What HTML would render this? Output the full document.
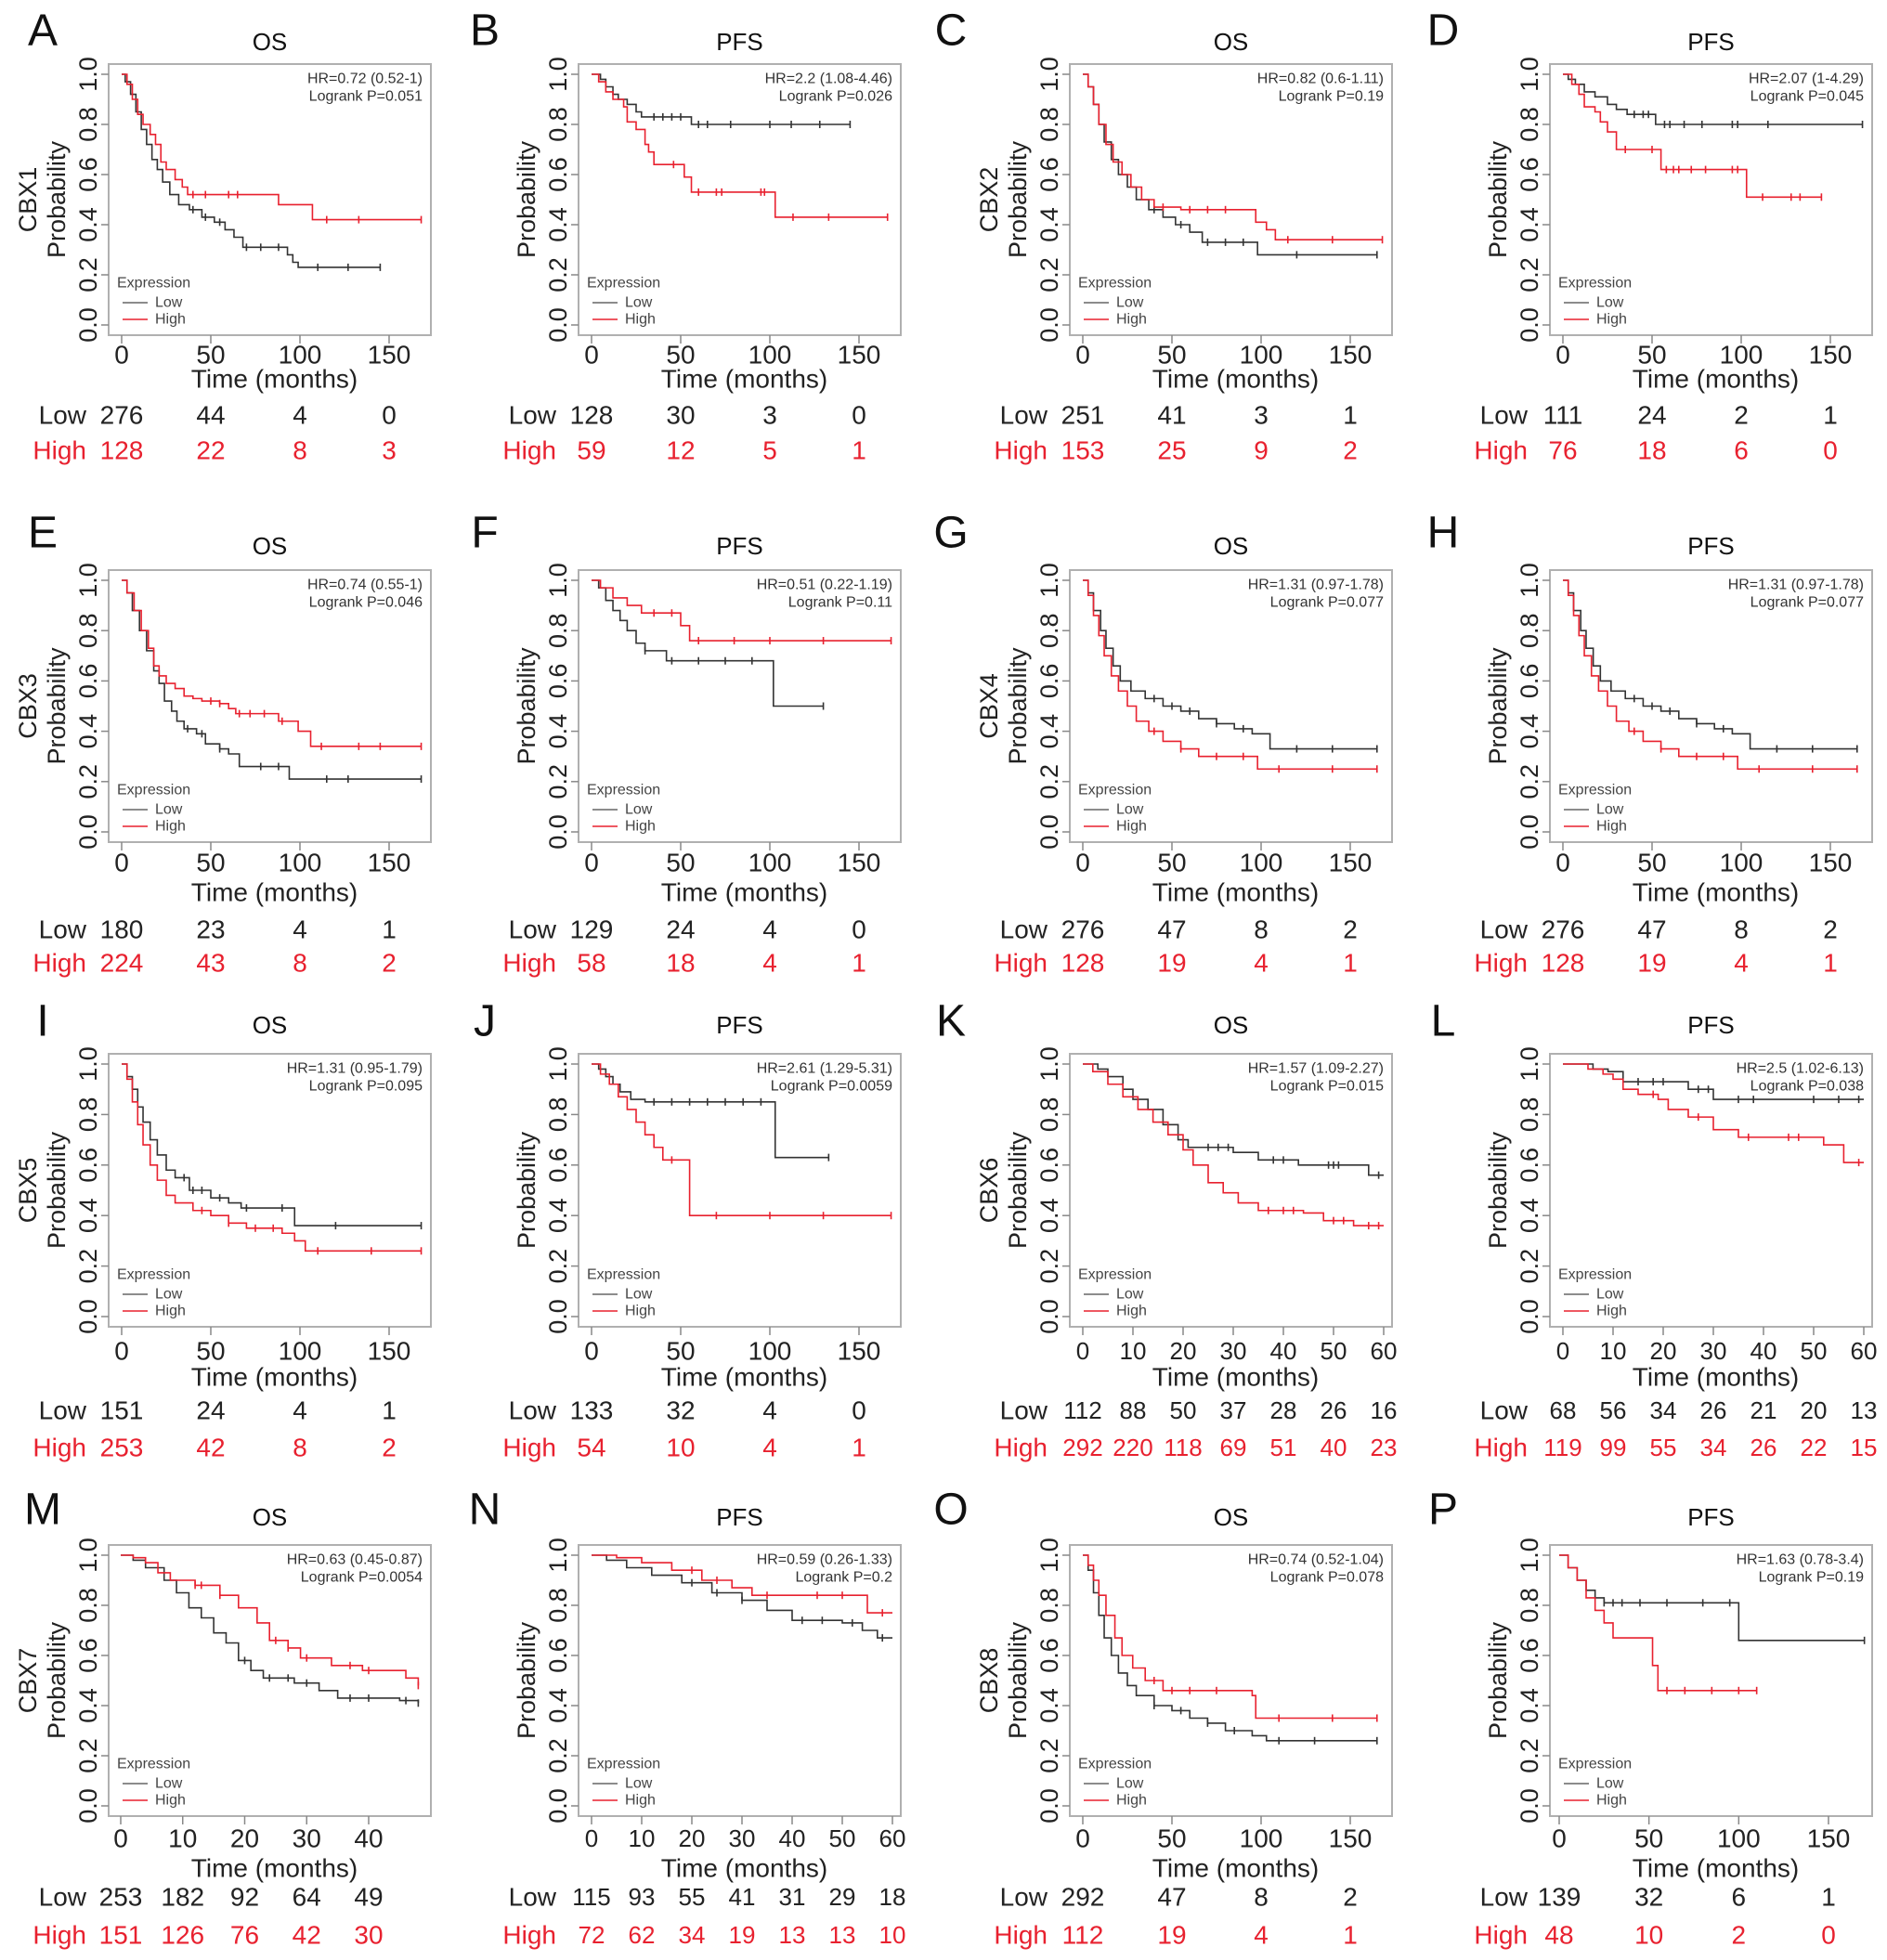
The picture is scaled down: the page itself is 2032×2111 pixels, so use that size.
<!DOCTYPE html>
<html><head><meta charset="utf-8"><title>CBX Kaplan-Meier panels</title>
<style>html,body{margin:0;padding:0;background:#fff}svg{display:block}text{font-family:"Liberation Sans",Arial,sans-serif}</style>
</head><body>
<svg id="fig" xmlns="http://www.w3.org/2000/svg" width="2032" height="2111" viewBox="0 0 2032 2111"></svg>
<script>
// ---------- data ----------
const panelIds = ["A","B","C","D","E","F","G","H","I","J","K","L","M","N","O","P"];
const endpoints = ["OS","PFS","OS","PFS","OS","PFS","OS","PFS","OS","PFS","OS","PFS","OS","PFS","OS","PFS"];
const genes = ["CBX1","","CBX2","","CBX3","","CBX4","","CBX5","","CBX6","","CBX7","","CBX8",""];
const hrLabels = ["HR=0.72 (0.52-1)","HR=2.2 (1.08-4.46)","HR=0.82 (0.6-1.11)","HR=2.07 (1-4.29)","HR=0.74 (0.55-1)","HR=0.51 (0.22-1.19)","HR=1.31 (0.97-1.78)","HR=1.31 (0.97-1.78)","HR=1.31 (0.95-1.79)","HR=2.61 (1.29-5.31)","HR=1.57 (1.09-2.27)","HR=2.5 (1.02-6.13)","HR=0.63 (0.45-0.87)","HR=0.59 (0.26-1.33)","HR=0.74 (0.52-1.04)","HR=1.63 (0.78-3.4)"];
const pLabels = ["Logrank P=0.051","Logrank P=0.026","Logrank P=0.19","Logrank P=0.045","Logrank P=0.046","Logrank P=0.11","Logrank P=0.077","Logrank P=0.077","Logrank P=0.095","Logrank P=0.0059","Logrank P=0.015","Logrank P=0.038","Logrank P=0.0054","Logrank P=0.2","Logrank P=0.078","Logrank P=0.19"];
const ticks150 = [0,50,100,150];
const ticks60 = [0,10,20,30,40,50,60];
const ticks40 = [0,10,20,30,40];
const yTicks = [0,0.2,0.4,0.6,0.8,1.0];
const yTickLabels = ["0.0","0.2","0.4","0.6","0.8","1.0"];
const riskLow = [[276,44,4,0],[128,30,3,0],[251,41,3,1],[111,24,2,1],[180,23,4,1],[129,24,4,0],[276,47,8,2],[276,47,8,2],[151,24,4,1],[133,32,4,0],[112,88,50,37,28,26,16],[68,56,34,26,21,20,13],[253,182,92,64,49],[115,93,55,41,31,29,18],[292,47,8,2],[139,32,6,1]];
const riskHigh = [[128,22,8,3],[59,12,5,1],[153,25,9,2],[76,18,6,0],[224,43,8,2],[58,18,4,1],[128,19,4,1],[128,19,4,1],[253,42,8,2],[54,10,4,1],[292,220,118,69,51,40,23],[119,99,55,34,26,22,15],[151,126,76,42,30],[72,62,34,19,13,13,10],[112,19,4,1],[48,10,2,0]];

// survival curves: [time, survival after drop]
const A_low=[[2,.97],[5,.92],[8,.85],[11,.78],[14,.72],[17,.66],[20,.62],[23,.57],[27,.52],[32,.48],[38,.46],[45,.43],[52,.41],[58,.38],[63,.35],[68,.31],[93,.28],[96,.25],[99,.23],[145,.23]];
const A_high=[[3,.96],[6,.9],[9,.84],[12,.8],[16,.76],[19,.72],[22,.65],[25,.62],[30,.58],[34,.55],[37,.52],[88,.48],[107,.42],[168,.42]];
const B_low=[[5,.98],[8,.95],[12,.92],[15,.9],[20,.88],[25,.85],[28,.83],[56,.8],[145,.8]];
const B_high=[[4,.97],[8,.93],[12,.9],[18,.87],[20,.81],[25,.78],[30,.72],[32,.69],[35,.64],[52,.59],[56,.53],[103,.43],[166,.43]];
const C_low=[[3,.95],[6,.88],[9,.8],[12,.73],[16,.66],[20,.6],[25,.55],[30,.5],[37,.46],[45,.43],[52,.4],[60,.37],[67,.33],[98,.28],[165,.28]];
const C_high=[[3,.95],[6,.88],[9,.8],[13,.72],[17,.65],[22,.6],[27,.55],[33,.5],[40,.47],[55,.46],[97,.41],[103,.38],[108,.34],[168,.34]];
const D_low=[[3,.98],[7,.96],[12,.93],[18,.91],[25,.88],[30,.86],[36,.84],[52,.8],[168,.8]];
const D_high=[[5,.96],[9,.92],[12,.87],[18,.85],[21,.81],[25,.77],[30,.7],[55,.62],[103,.51],[145,.51]];
const E_low=[[3,.95],[6,.88],[10,.8],[14,.72],[18,.64],[21,.59],[24,.52],[28,.48],[31,.44],[35,.41],[42,.39],[47,.35],[55,.33],[60,.31],[66,.26],[94,.21],[168,.21]];
const E_high=[[3,.95],[7,.88],[11,.8],[15,.73],[18,.66],[21,.62],[25,.59],[30,.57],[35,.54],[40,.53],[45,.52],[55,.51],[60,.49],[64,.47],[88,.44],[99,.4],[106,.34],[168,.34]];
const F_low=[[4,.97],[8,.92],[12,.88],[16,.84],[20,.8],[25,.75],[30,.72],[42,.68],[102,.5],[130,.5]];
const F_high=[[5,.97],[12,.93],[20,.9],[28,.87],[50,.82],[55,.76],[168,.76]];
const G_low=[[3,.95],[6,.88],[10,.8],[13,.73],[17,.66],[21,.6],[27,.56],[35,.53],[45,.5],[55,.48],[65,.45],[75,.43],[85,.41],[95,.39],[105,.33],[165,.33]];
const G_high=[[3,.94],[6,.86],[9,.78],[12,.7],[16,.62],[20,.56],[25,.5],[30,.44],[37,.4],[45,.36],[55,.33],[65,.3],[98,.25],[165,.25]];
const H_low=[[3,.95],[6,.88],[10,.8],[13,.73],[17,.66],[21,.6],[27,.56],[35,.53],[45,.5],[55,.48],[65,.45],[75,.43],[85,.41],[95,.39],[105,.33],[165,.33]];
const H_high=[[3,.94],[6,.86],[9,.78],[12,.7],[16,.62],[20,.56],[25,.5],[30,.44],[37,.4],[45,.36],[55,.33],[65,.3],[98,.25],[165,.25]];
const I_low=[[3,.95],[6,.9],[9,.83],[12,.77],[16,.7],[20,.64],[25,.58],[30,.55],[38,.5],[50,.47],[60,.45],[67,.43],[97,.36],[168,.36]];
const I_high=[[3,.94],[6,.85],[9,.76],[12,.68],[16,.6],[20,.54],[25,.48],[30,.45],[40,.42],[50,.4],[60,.37],[70,.35],[90,.33],[97,.3],[103,.26],[168,.26]];
const J_low=[[4,.98],[8,.95],[12,.92],[16,.89],[22,.86],[30,.85],[103,.63],[133,.63]];
const J_high=[[5,.96],[10,.92],[15,.87],[20,.82],[25,.77],[30,.72],[35,.67],[40,.62],[55,.4],[168,.4]];
const K_low=[[3,.98],[5,.95],[8,.9],[10,.86],[13,.82],[16,.76],[19,.7],[21,.67],[30,.65],[35,.62],[43,.6],[57,.56],[60,.56]];
const K_high=[[2,.97],[5,.92],[8,.87],[11,.82],[14,.77],[17,.72],[20,.66],[22,.6],[25,.53],[28,.49],[31,.45],[35,.42],[44,.41],[48,.38],[54,.36],[60,.36]];
const L_low=[[6,.98],[9,.97],[12,.93],[25,.9],[30,.86],[60,.86]];
const L_high=[[5,.98],[8,.96],[10,.94],[12,.9],[15,.88],[19,.86],[21,.82],[25,.79],[30,.74],[35,.71],[52,.68],[56,.61],[60,.61]];
const M_low=[[2,.98],[4,.95],[7,.9],[9,.85],[11,.79],[13,.75],[15,.69],[17,.65],[19,.58],[21,.54],[23,.51],[28,.49],[32,.46],[35,.43],[45,.42],[48,.41]];
const M_high=[[2,.99],[4,.97],[6,.93],[8,.9],[12,.88],[16,.84],[19,.79],[22,.73],[24,.66],[27,.63],[29,.59],[34,.56],[39,.54],[46,.51],[48,.48]];
const N_low=[[3,.98],[7,.95],[12,.92],[18,.89],[24,.85],[30,.82],[35,.78],[40,.74],[50,.73],[54,.7],[57,.67],[60,.67]];
const N_high=[[5,.99],[10,.97],[16,.94],[22,.9],[28,.87],[32,.84],[55,.77],[60,.77]];
const O_low=[[3,.94],[6,.85],[9,.76],[12,.67],[16,.6],[20,.53],[25,.48],[30,.44],[40,.4],[50,.38],[60,.35],[70,.33],[80,.3],[95,.28],[103,.26],[165,.26]];
const O_high=[[3,.96],[6,.9],[9,.84],[13,.76],[18,.67],[22,.6],[28,.55],[35,.5],[45,.46],[95,.44],[97,.35],[165,.35]];
const P_low=[[5,.95],[10,.9],[15,.86],[20,.83],[25,.81],[100,.66],[170,.66]];
const P_high=[[5,.95],[10,.9],[15,.83],[20,.78],[25,.73],[30,.67],[52,.56],[55,.46],[110,.46]];
// censoring times
const A_lowC=[40,47,55,70,78,88,110,127,145], A_highC=[40,47,60,65,115,133,168];
const B_lowC=[35,40,45,50,60,65,78,100,112,128,145], B_highC=[46,60,70,73,95,97,113,133,166];
const C_lowC=[40,55,70,80,90,120,165], C_highC=[45,60,70,80,115,140,168];
const D_lowC=[40,45,48,57,60,68,78,95,98,115,168], D_highC=[35,50,58,62,65,72,80,95,98,112,128,133,145];
const E_lowC=[37,45,55,78,88,115,127,168], E_highC=[50,55,66,72,80,90,112,133,145,168];
const F_lowC=[30,45,60,75,90,130], F_highC=[35,45,60,80,100,130,168];
const G_lowC=[40,50,60,75,90,120,140,165], G_highC=[40,55,75,90,110,140,165];
const H_lowC=[40,50,60,75,90,120,140,165], H_highC=[40,55,75,90,110,140,165];
const I_lowC=[35,40,45,55,70,90,120,168], I_highC=[45,60,75,85,110,140,168];
const J_lowC=[35,45,55,65,75,85,95,133], J_highC=[45,70,100,130,168];
const K_lowC=[25,27,29,38,40,49,50,51,59], K_highC=[37,40,42,50,52,57,59];
const L_lowC=[15,18,20,27,29,35,38,50,55,59], L_highC=[18,27,37,45,47,59];
const M_lowC=[20,24,27,30,37,40,46,48], M_highC=[12,13,16,25,27,30,37,40,48];
const N_lowC=[20,25,30,42,46,52,58], N_highC=[20,25,35,45,50,58];
const O_lowC=[40,55,70,85,110,130,165], O_highC=[40,50,60,75,110,140,165];
const P_lowC=[25,30,35,45,60,80,95,170], P_highC=[60,70,85,100,110];

const lowSeries=[A_low,B_low,C_low,D_low,E_low,F_low,G_low,H_low,I_low,J_low,K_low,L_low,M_low,N_low,O_low,P_low];
const highSeries=[A_high,B_high,C_high,D_high,E_high,F_high,G_high,H_high,I_high,J_high,K_high,L_high,M_high,N_high,O_high,P_high];
const lowCens=[A_lowC,B_lowC,C_lowC,D_lowC,E_lowC,F_lowC,G_lowC,H_lowC,I_lowC,J_lowC,K_lowC,L_lowC,M_lowC,N_lowC,O_lowC,P_lowC];
const highCens=[A_highC,B_highC,C_highC,D_highC,E_highC,F_highC,G_highC,H_highC,I_highC,J_highC,K_highC,L_highC,M_highC,N_highC,O_highC,P_highC];

// ---------- layout ----------
const colX=[117,623,1152,1669], boxW=347;
const rowTop=[69,614,1135,1664], rowBot=[361,907,1429,1956];
const rowTitle=[45,588,1104,1634], rowTick=[382,929,1455,1980], rowTime=[408,961,1483,2012], rowLow=[447,1001,1519,2043], rowHigh=[485,1037,1559,2084], rowLetter=[33,574,1100,1626];
const letterX=[46,522,1024,1554];
const RED="#e8212f";
const NS="http://www.w3.org/2000/svg";
const svg=document.getElementById('fig');
function mk(tag,attrs,parent){const e=document.createElementNS(NS,tag);for(const k in attrs)e.setAttribute(k,attrs[k]);(parent||svg).appendChild(e);return e;}
function txt(s,attrs,parent){const e=mk('text',attrs,parent);e.textContent=s;return e;}

panelIds.forEach((id,i)=>{
  const r=Math.floor(i/4), c=i%4;
  const bx=colX[c], bt=rowTop[r], bb=rowBot[r];
  const y1=bt+11, y0=bb-11;
  let ticks=ticks150, x0=bx+14, tMax=150, x1=bx+302;
  if(id==="K"||id==="L"||id==="N"){ticks=ticks60;tMax=60;x1=bx+338;}
  if(id==="M"){ticks=ticks40;tMax=40;x0=bx+13;x1=bx+280;}
  if(id==="P"){x0=bx+10;x1=bx+300;}
  const X=t=>x0+(x1-x0)*t/tMax;
  const Y=s=>y0-(y0-y1)*s;
  const fs=ticks.length>5?26:28;
  const g=mk('g',{});
  
  
  const L=txt(id,{x:letterX[c],y:rowLetter[r],'font-size':48,'text-anchor':'middle','dominant-baseline':'central',fill:'#111'},g);
  
  
  const T=txt(endpoints[i],{x:bx+boxW/2,y:rowTitle[r],'font-size':26,'text-anchor':'middle','dominant-baseline':'central',fill:'#111'},g);
  
  
  const box=mk('rect',{x:bx,y:bt,width:boxW,height:bb-bt,fill:'none',stroke:'#b0b0b0','stroke-width':2},g);
  
  
  yTicks.forEach((v,k)=>{
    const tk=mk('line',{x1:bx-8,x2:bx,y1:Y(v),y2:Y(v),stroke:'#888','stroke-width':1.5},g);
    
    
    const tl=txt(yTickLabels[k],{x:0,y:0,'font-size':27,'text-anchor':'middle','dominant-baseline':'central',fill:'#222',transform:`translate(${bx-22},${Y(v)}) rotate(-90)`},g);
    
    
  });
  const yl=txt('Probability',{x:0,y:0,'font-size':27,'text-anchor':'middle','dominant-baseline':'central',fill:'#222',transform:`translate(${bx-56},${(y0+y1)/2}) rotate(-90)`},g);
  
  
  if(genes[i]){
    const gl=txt(genes[i],{x:0,y:0,'font-size':27,'text-anchor':'middle','dominant-baseline':'central',fill:'#222',transform:`translate(${bx-87},${(y0+y1)/2}) rotate(-90)`},g);
    
    
  }
  ticks.forEach((t,k)=>{
    const tk=mk('line',{x1:X(t),x2:X(t),y1:bb,y2:bb+9,stroke:'#888','stroke-width':1.5},g);
    
    
    const tl=txt(String(t),{x:X(t),y:rowTick[r],'font-size':fs,'text-anchor':'middle','dominant-baseline':'central',fill:'#222'},g);
    
    
    const rl=txt(String(riskLow[i][k]),{x:X(t),y:rowLow[r],'font-size':fs,'text-anchor':'middle','dominant-baseline':'central',fill:'#222'},g);
    
    
    const rh=txt(String(riskHigh[i][k]),{x:X(t),y:rowHigh[r],'font-size':fs,'text-anchor':'middle','dominant-baseline':'central',fill:RED},g);
    
    
  });
  const xt=txt('Time (months)',{x:bx+boxW/2+5,y:rowTime[r],'font-size':28,'text-anchor':'middle','dominant-baseline':'central',fill:'#222'},g);
  
  
  const lowLab=txt('Low',{x:bx-24,y:rowLow[r],'font-size':28,'text-anchor':'end','dominant-baseline':'central',fill:'#222'},g);
  
  
  const highLab=txt('High',{x:bx-24,y:rowHigh[r],'font-size':28,'text-anchor':'end','dominant-baseline':'central',fill:RED},g);
  
  
  const hr=txt(hrLabels[i],{x:bx+boxW-9,y:bt+16,'font-size':16,'text-anchor':'end','dominant-baseline':'central',fill:'#333'},g);
  
  
  const pv=txt(pLabels[i],{x:bx+boxW-9,y:bt+35,'font-size':16,'text-anchor':'end','dominant-baseline':'central',fill:'#333'},g);
  
  
  const lg=mk('g',{},g);
  
  
  txt('Expression',{x:bx+9,y:y0-45,'font-size':16,'dominant-baseline':'central',fill:'#444'},lg);
  mk('line',{x1:bx+15,x2:bx+42,y1:y0-24,y2:y0-24,stroke:'#666','stroke-width':1.5},lg);
  txt('Low',{x:bx+50,y:y0-24,'font-size':16,'dominant-baseline':'central',fill:'#444'},lg);
  mk('line',{x1:bx+15,x2:bx+42,y1:y0-6,y2:y0-6,stroke:RED,'stroke-width':1.5},lg);
  txt('High',{x:bx+50,y:y0-6,'font-size':16,'dominant-baseline':'central',fill:'#444'},lg);

  [[lowSeries[i],lowCens[i],'#333','low'],[highSeries[i],highCens[i],RED,'high']].forEach(([pts,cens,col,nm])=>{
    let d=`M${X(0)},${Y(1)}`;
    pts.forEach(([t,v])=>{d+=` H${X(t)} V${Y(v)}`;});
    const p=mk('path',{d:d,fill:'none',stroke:col,'stroke-width':1.6},g);
    
    
    const sAt=t=>{let v=1;pts.forEach(([tt,vv])=>{if(tt<=t)v=vv;});return v;};
    cens.forEach(t=>{
      const cm=mk('line',{x1:X(t),x2:X(t),y1:Y(sAt(t))-4,y2:Y(sAt(t))+4,stroke:col,'stroke-width':1.6},g);
      
      
    });
  });
});
</script>
</body></html>
